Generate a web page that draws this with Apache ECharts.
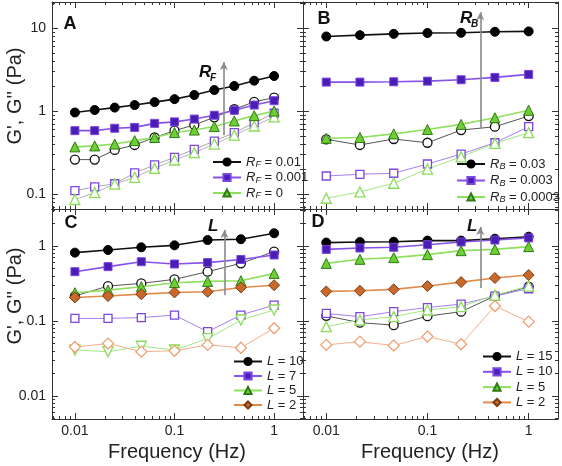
<!DOCTYPE html>
<html><head><meta charset="utf-8">
<script src="https://cdn.jsdelivr.net/npm/echarts@6/dist/echarts.min.js"></script>
<style>html,body{margin:0;padding:0;background:#fff}#c{width:562px;height:466px}</style>
</head><body><div id="c"></div>
<script>
// ---------- DATA ----------
const freq11 = [0.01, 0.0158, 0.0251, 0.0398, 0.0631, 0.1, 0.158, 0.251, 0.398, 0.631, 1];
const freq7 = [0.01, 0.0215, 0.0464, 0.1, 0.215, 0.464, 1];

// Panel A : R_F
const aLegend = ['0.01', '0.001', '0'];
const aStorage_RF001 = [0.96, 1.03, 1.10, 1.18, 1.28, 1.39, 1.56, 1.79, 2.0, 2.32, 2.64];
const aLoss_RF001 = [0.26, 0.26, 0.34, 0.39, 0.48, 0.58, 0.68, 0.84, 1.05, 1.29, 1.45];
const aStorage_RF0001 = [0.58, 0.58, 0.62, 0.635, 0.71, 0.74, 0.80, 0.89, 1.02, 1.18, 1.33];
const aLoss_RF0001 = [0.11, 0.122, 0.133, 0.18, 0.224, 0.277, 0.346, 0.435, 0.548, 0.72, 0.94];
const aStorage_RF0 = [0.37, 0.38, 0.40, 0.44, 0.48, 0.55, 0.59, 0.65, 0.76, 0.88, 1.0];
const aLoss_RF0 = [0.086, 0.104, 0.132, 0.159, 0.204, 0.257, 0.315, 0.40, 0.513, 0.66, 0.85];

// Panel B : R_B
const bLegend = ['0.03', '0.003', '0.0003'];
const bStorage_RB003 = [7.9, 8.2, 8.5, 8.7, 8.75, 9.0, 9.1];
const bLoss_RB003 = [0.456, 0.39, 0.46, 0.415, 0.59, 0.647, 0.87];
const bStorage_RB0003 = [2.23, 2.23, 2.25, 2.29, 2.38, 2.54, 2.76];
const bLoss_RB0003 = [0.165, 0.173, 0.178, 0.23, 0.303, 0.415, 0.647];
const bStorage_RB00003 = [0.47, 0.48, 0.53, 0.60, 0.69, 0.83, 1.02];
const bLoss_RB00003 = [0.089, 0.106, 0.135, 0.20, 0.281, 0.408, 0.548];

// Panel C : L
const cLegend = ['10', '7', '5', '2'];
const cStorage_L10 = [0.815, 0.884, 0.96, 1.02, 1.20, 1.23, 1.48];
const cLoss_L10 = [0.215, 0.292, 0.317, 0.359, 0.454, 0.587, 0.84];
const cStorage_L7 = [0.454, 0.53, 0.617, 0.575, 0.60, 0.66, 0.758];
const cLoss_L7 = [0.108, 0.108, 0.111, 0.12, 0.072, 0.12, 0.163];
const cStorage_L5 = [0.238, 0.258, 0.286, 0.324, 0.337, 0.344, 0.431];
const cLoss_L5 = [0.041, 0.039, 0.046, 0.041, 0.058, 0.103, 0.14];
const cStorage_L2 = [0.206, 0.215, 0.228, 0.24, 0.245, 0.28, 0.30];
const cLoss_L2 = [0.045, 0.05, 0.039, 0.040, 0.048, 0.044, 0.08];

// Panel D : L
const dLegend = ['15', '10', '5', '2'];
const dStorage_L15 = [1.11, 1.13, 1.14, 1.18, 1.18, 1.25, 1.33];
const dLoss_L15 = [0.117, 0.095, 0.088, 0.116, 0.133, 0.215, 0.286];
const dStorage_L10 = [0.90, 0.94, 0.96, 1.04, 1.13, 1.20, 1.28];
const dLoss_L10 = [0.126, 0.114, 0.133, 0.151, 0.168, 0.215, 0.269];
const dStorage_L5 = [0.586, 0.664, 0.699, 0.766, 0.866, 0.90, 0.98];
const dLoss_L5 = [0.084, 0.103, 0.114, 0.14, 0.155, 0.221, 0.292];
const dStorage_L2 = [0.248, 0.253, 0.264, 0.292, 0.33, 0.374, 0.41];
const dLoss_L2 = [0.048, 0.053, 0.047, 0.062, 0.049, 0.158, 0.098];

// arrows [freq, from, to]
const arrowA = [0.313, 0.51, 3.9];
const arrowB = [0.333, 0.61, 15.5];
const arrowC = [0.317, 0.22, 1.63];
const arrowD = [0.333, 0.276, 1.79];

const xTickLabels = [0.01, 0.1, 1];
const yTickLabelsTop = [0.1, 1, 10];
const yTickLabelsBottom = [0.01, 0.1, 1];

// ---------- STYLE / LAYOUT ----------
const FONT = 'Liberation Sans, Arial, Helvetica, sans-serif';
const XMIN = Math.pow(10, -2.23), XMAX = Math.pow(10, 0.29);
const TOP_YMIN = Math.pow(10, -1.18), TOP_YMAX = Math.pow(10, 1.313);
const BOT_YMIN = Math.pow(10, -2.307), BOT_YMAX = Math.pow(10, 0.493);

const grids = [
  {left: 52, top: 2, width: 251, height: 207},
  {left: 303, top: 2, width: 255, height: 207},
  {left: 52, top: 209, width: 251, height: 210},
  {left: 303, top: 209, width: 255, height: 210}
];

const ST = {
  black:  {fill: '#000000', stroke: '#000000', line: '#111111', oStroke: '#111111', oLine: '#555555', sym: 'circle', size: 9},
  purple: {fill: '#4a1db5', stroke: '#7b46e2', line: '#8752ea', oStroke: '#7b46e2', oLine: '#a482ee', sym: 'rect', size: 8},
  green:  {fill: '#6ccf33', stroke: '#2f7a14', line: '#8fe05e', oStroke: '#88dc58', oLine: '#a3e880', sym: 'triangle', size: 10},
  orange: {fill: '#c8692b', stroke: '#7a3c12', line: '#e08a4c', oStroke: '#f0a072', oLine: '#f2b08c', sym: 'diamond', size: 11}
};

function minorValues(lo, hi, min, max) {
  const out = [];
  for (let e = lo; e <= hi; e++) for (let m = 2; m <= 9; m++) {
    const v = +(m * Math.pow(10, e)).toPrecision(6);
    if (v > min && v < max) out.push(v);
  }
  return out;
}
const fmt = v => String(+(+v).toPrecision(6));

const xAxes = [], yAxes = [];
function addAxes(g, showX, showY, ymin, ymax, yMajors) {
  const xMinor = minorValues(-3, 0, XMIN, XMAX);
  const yMinor = minorValues(-3, 1, ymin, ymax);
  const lineStyle = {color: '#333', width: 1};
  const base = {gridIndex: g, type: 'log', logBase: 10, splitLine: {show: false}, minorTick: {show: false}};
  const xi = xAxes.length;
  xAxes.push(Object.assign({}, base, {min: XMIN, max: XMAX, position: 'bottom',
    axisLine: {show: true, lineStyle},
    axisTick: {show: true, inside: true, length: 6, customValues: xTickLabels, lineStyle},
    axisLabel: {show: showX, customValues: xTickLabels, formatter: fmt, margin: 5, fontSize: 14, color: '#222', fontFamily: FONT}}));
  xAxes.push(Object.assign({}, base, {min: XMIN, max: XMAX, position: 'bottom',
    axisLine: {show: false}, axisTick: {show: true, inside: true, length: 3, customValues: xMinor, lineStyle},
    axisLabel: {show: false}}));
  xAxes.push(Object.assign({}, base, {min: XMIN, max: XMAX, position: 'top',
    axisLine: {show: true, lineStyle}, axisTick: {show: true, inside: true, length: 6, customValues: xTickLabels, lineStyle},
    axisLabel: {show: false}}));
  xAxes.push(Object.assign({}, base, {min: XMIN, max: XMAX, position: 'top',
    axisLine: {show: false}, axisTick: {show: true, inside: true, length: 3, customValues: xMinor, lineStyle},
    axisLabel: {show: false}}));
  const yi = yAxes.length;
  yAxes.push(Object.assign({}, base, {min: ymin, max: ymax, position: 'left',
    axisLine: {show: true, lineStyle},
    axisTick: {show: true, inside: true, length: 6, customValues: yMajors, lineStyle},
    axisLabel: {show: showY, customValues: yMajors, formatter: fmt, margin: 6, fontSize: 14, color: '#222', fontFamily: FONT}}));
  yAxes.push(Object.assign({}, base, {min: ymin, max: ymax, position: 'left',
    axisLine: {show: false}, axisTick: {show: true, inside: true, length: 3, customValues: yMinor, lineStyle},
    axisLabel: {show: false}}));
  yAxes.push(Object.assign({}, base, {min: ymin, max: ymax, position: 'right',
    axisLine: {show: true, lineStyle}, axisTick: {show: true, inside: true, length: 6, customValues: yMajors, lineStyle},
    axisLabel: {show: false}}));
  yAxes.push(Object.assign({}, base, {min: ymin, max: ymax, position: 'right',
    axisLine: {show: false}, axisTick: {show: true, inside: true, length: 3, customValues: yMinor, lineStyle},
    axisLabel: {show: false}}));
  return [xi, yi];
}
const axA = addAxes(0, false, true, TOP_YMIN, TOP_YMAX, yTickLabelsTop);
const axB = addAxes(1, false, false, TOP_YMIN, TOP_YMAX, yTickLabelsTop);
const axC = addAxes(2, true, true, BOT_YMIN, BOT_YMAX, yTickLabelsBottom);
const axD = addAxes(3, true, false, BOT_YMIN, BOT_YMAX, yTickLabelsBottom);

const series = [];
const zip = (f, v) => f.map((x, i) => [x, v[i]]);
function addPair(ax, name, freq, filled, open, st, opts) {
  opts = opts || {};
  series.push({
    type: 'line', name, xAxisIndex: ax[0], yAxisIndex: ax[1], data: zip(freq, filled),
    symbol: st.sym, symbolSize: st.size, z: 4,
    itemStyle: {color: st.fill, borderColor: st.stroke, borderWidth: 1},
    lineStyle: {color: st.line, width: 1.6}, animation: false
  });
  series.push({
    type: 'line', name: name + '_open', xAxisIndex: ax[0], yAxisIndex: ax[1], data: zip(freq, open),
    symbol: st.sym, symbolSize: st.size, symbolRotate: opts.rotate || 0, z: 3,
    itemStyle: {color: '#ffffff', borderColor: st.oStroke, borderWidth: 1.3},
    lineStyle: {color: opts.oLine || st.oLine, width: 1}, animation: false
  });
}
function arrow(ax, a) {
  series.push({
    type: 'line', name: 'arrow' + ax[0], xAxisIndex: ax[0], yAxisIndex: ax[1], data: [], animation: false,
    markLine: {silent: true, symbol: ['none', 'arrow'], symbolSize: [6, 8], animation: false,
      lineStyle: {color: '#8a8a8a', width: 1.6, type: 'solid'}, label: {show: false},
      data: [[{coord: [a[0], a[1]]}, {coord: [a[0], a[2]]}]]}
  });
}

addPair(axA, 'A0', freq11, aStorage_RF001, aLoss_RF001, ST.black);
addPair(axA, 'A1', freq11, aStorage_RF0001, aLoss_RF0001, ST.purple, {oLine: '#a9a9a9'});
addPair(axA, 'A2', freq11, aStorage_RF0, aLoss_RF0, ST.green, {oLine: '#b4b4b4'});
arrow(axA, arrowA);

addPair(axB, 'B0', freq7, bStorage_RB003, bLoss_RB003, ST.black);
addPair(axB, 'B1', freq7, bStorage_RB0003, bLoss_RB0003, ST.purple);
addPair(axB, 'B2', freq7, bStorage_RB00003, bLoss_RB00003, ST.green);
arrow(axB, arrowB);

addPair(axC, 'C0', freq7, cStorage_L10, cLoss_L10, ST.black);
addPair(axC, 'C1', freq7, cStorage_L7, cLoss_L7, ST.purple);
addPair(axC, 'C2', freq7, cStorage_L5, cLoss_L5, ST.green, {rotate: 180});
addPair(axC, 'C3', freq7, cStorage_L2, cLoss_L2, ST.orange);
arrow(axC, arrowC);

addPair(axD, 'D0', freq7, dStorage_L15, dLoss_L15, ST.black);
addPair(axD, 'D1', freq7, dStorage_L10, dLoss_L10, ST.purple);
addPair(axD, 'D2', freq7, dStorage_L5, dLoss_L5, ST.green);
addPair(axD, 'D3', freq7, dStorage_L2, dLoss_L2, ST.orange);
arrow(axD, arrowD);

const legendText = {A: ['R', 'F', aLegend], B: ['R', 'B', bLegend], C: ['L', '', cLegend], D: ['L', '', dLegend]};
function legendFmt(name) {
  const p = legendText[name[0]], i = +name.slice(1);
  return '{r|' + p[0] + '}' + (p[1] ? '{s|' + p[1] + '}' : '') + '{t| = ' + p[2][i] + '}';
}
const richL = {
  r: {fontSize: 13, lineHeight: 13, fontStyle: 'italic', fontFamily: FONT, color: '#222'},
  s: {fontSize: 9, lineHeight: 9, fontStyle: 'italic', fontFamily: FONT, color: '#222', padding: [5, 0, 0, 0]},
  t: {fontSize: 13, lineHeight: 13, fontFamily: FONT, color: '#222'}
};
function legend(names, left, top, gap) {
  return {data: names, left, top, orient: 'vertical', itemWidth: 28, itemHeight: 9, itemGap: gap,
    formatter: legendFmt, textStyle: {rich: richL}, selectedMode: false, padding: 0};
}

function gtext(x, y, text, extra) {
  return Object.assign({type: 'text', x, y, silent: true,
    style: Object.assign({text, fill: '#111', font: 'bold 18px ' + FONT, textAlign: 'center', textVerticalAlign: 'middle'}, extra || {})});
}
function arrowLabel(x, y, main, sub) {
  const els = [gtext(x, y, main, {font: 'italic bold 17px ' + FONT, textAlign: 'left'})];
  if (sub) els.push(gtext(x + 11, y + 6, sub, {font: 'italic bold 10px ' + FONT, textAlign: 'left'}));
  return els;
}

const option = {
  backgroundColor: '#ffffff',
  animation: false,
  grid: grids.map(g => Object.assign({containLabel: false, show: false}, g)),
  xAxis: xAxes,
  yAxis: yAxes,
  legend: [
    legend(['A0', 'A1', 'A2'], 212, 155, 1.5),
    legend(['B0', 'B1', 'B2'], 456, 157, 2.5),
    legend(['C0', 'C1', 'C2', 'C3'], 233, 355, 1.5),
    legend(['D0', 'D1', 'D2', 'D3'], 482, 350, 2.3)
  ],
  series,
  graphic: [
    gtext(70, 24, 'A'), gtext(324, 19, 'B'), gtext(71, 223, 'C'), gtext(318, 222, 'D'),
    gtext(15, 96, "G', G'' (Pa)", {font: '20px ' + FONT, fill: '#222'}),
    gtext(15, 296, "G', G'' (Pa)", {font: '20px ' + FONT, fill: '#222'}),
    gtext(177, 452, 'Frequency (Hz)', {font: '20px ' + FONT, fill: '#222'}),
    gtext(430, 452, 'Frequency (Hz)', {font: '20px ' + FONT, fill: '#222'}),
    ...arrowLabel(199, 72, 'R', 'F'),
    ...arrowLabel(460, 18, 'R', 'B'),
    ...arrowLabel(208, 226, 'L', ''),
    ...arrowLabel(467, 226, 'L', '')
  ]
};
option.graphic[4].rotation = Math.PI / 2;
option.graphic[5].rotation = Math.PI / 2;

const chart = echarts.init(document.getElementById('c'), null, {renderer: 'canvas'});
chart.setOption(option);
</script>
</body></html>
